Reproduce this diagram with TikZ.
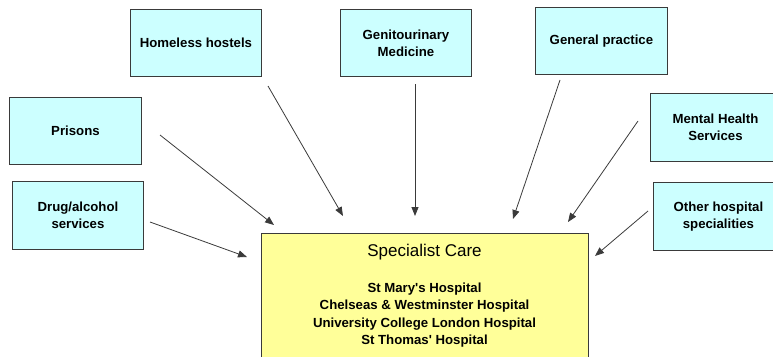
\documentclass[tikz,border=0pt]{standalone}
\usepackage{fontspec}
\setmainfont{Liberation Sans}
\usetikzlibrary{arrows.meta}
\definecolor{boxcyan}{HTML}{CCFFFF}
\definecolor{boxyellow}{HTML}{FFFF99}
\definecolor{edge}{HTML}{3A3A3A}
\tikzset{
  srcbox/.style={draw=edge, line width=0.9pt, fill=boxcyan, inner sep=0pt,
    font=\fontsize{13.2}{17.3}\selectfont\bfseries, align=center},
  carebox/.style={draw=edge, line width=0.9pt, fill=boxyellow, inner sep=0pt},
  arr/.style={draw=edge, line width=0.8pt, -{Triangle[length=9pt,width=7pt]}},
}
\begin{document}
\begin{tikzpicture}[x=1pt,y=-1pt]
\useasboundingbox (0,0) rectangle (773,356);
\clip (0,0) rectangle (773,356);
% source boxes (corner based)
\node[srcbox, minimum width=131pt, minimum height=67pt, anchor=north west] (homeless) at (130,9) {Homeless hostels};
\node[srcbox, minimum width=131pt, minimum height=67pt, anchor=north west] (genito) at (340,9) {Genitourinary\\Medicine};
\node[srcbox, minimum width=132pt, minimum height=67pt, anchor=north west] (gp) at (535,7) {General practice};
\node[srcbox, minimum width=130pt, minimum height=68pt, anchor=north west] (mental) at (650,93) {Mental Health\\Services};
\node[srcbox, minimum width=130pt, minimum height=68pt, anchor=north west] (other) at (653,182) {Other hospital\\specialities};
\node[srcbox, minimum width=132pt, minimum height=67pt, anchor=north west] (prisons) at (9,97) {Prisons};
\node[srcbox, minimum width=131pt, minimum height=68pt, anchor=north west] (drug) at (12,181) {Drug/alcohol\\services};
% specialist care box
\node[carebox, minimum width=327pt, minimum height=140pt, anchor=north west] (care) at (261,233) {};
\node[font=\fontsize{17}{20}\selectfont, anchor=center] (caretitle) at (424.5,252) {Specialist Care};
\node[font=\fontsize{13.2}{17.5}\selectfont\bfseries, align=center, anchor=north] (carelist) at (424.5,279)
  {St Mary\textquotesingle s Hospital\\Chelseas \& Westminster Hospital\\University College London Hospital\\St Thomas\textquotesingle\ Hospital};
% connector end points
\coordinate (prisons-out) at (160,135);
\coordinate (care-in-prisons) at (274,225);
\coordinate (homeless-out) at (268,86);
\coordinate (care-in-homeless) at (343,216);
\coordinate (genito-out) at (415,84);
\coordinate (care-in-genito) at (415,216);
\coordinate (gp-out) at (560,80);
\coordinate (care-in-gp) at (513,219);
\coordinate (mental-out) at (638,121);
\coordinate (care-in-mental) at (568,222);
\coordinate (other-out) at (648,211);
\coordinate (care-in-other) at (595,256);
\coordinate (drug-out) at (150,222);
\coordinate (care-in-drug) at (247,257);
\draw[arr] (prisons-out) -- (care-in-prisons);
\draw[arr] (homeless-out) -- (care-in-homeless);
\draw[arr] (genito-out) -- (care-in-genito);
\draw[arr] (gp-out) -- (care-in-gp);
\draw[arr] (mental-out) -- (care-in-mental);
\draw[arr] (other-out) -- (care-in-other);
\draw[arr] (drug-out) -- (care-in-drug);
\end{tikzpicture}
\end{document}
